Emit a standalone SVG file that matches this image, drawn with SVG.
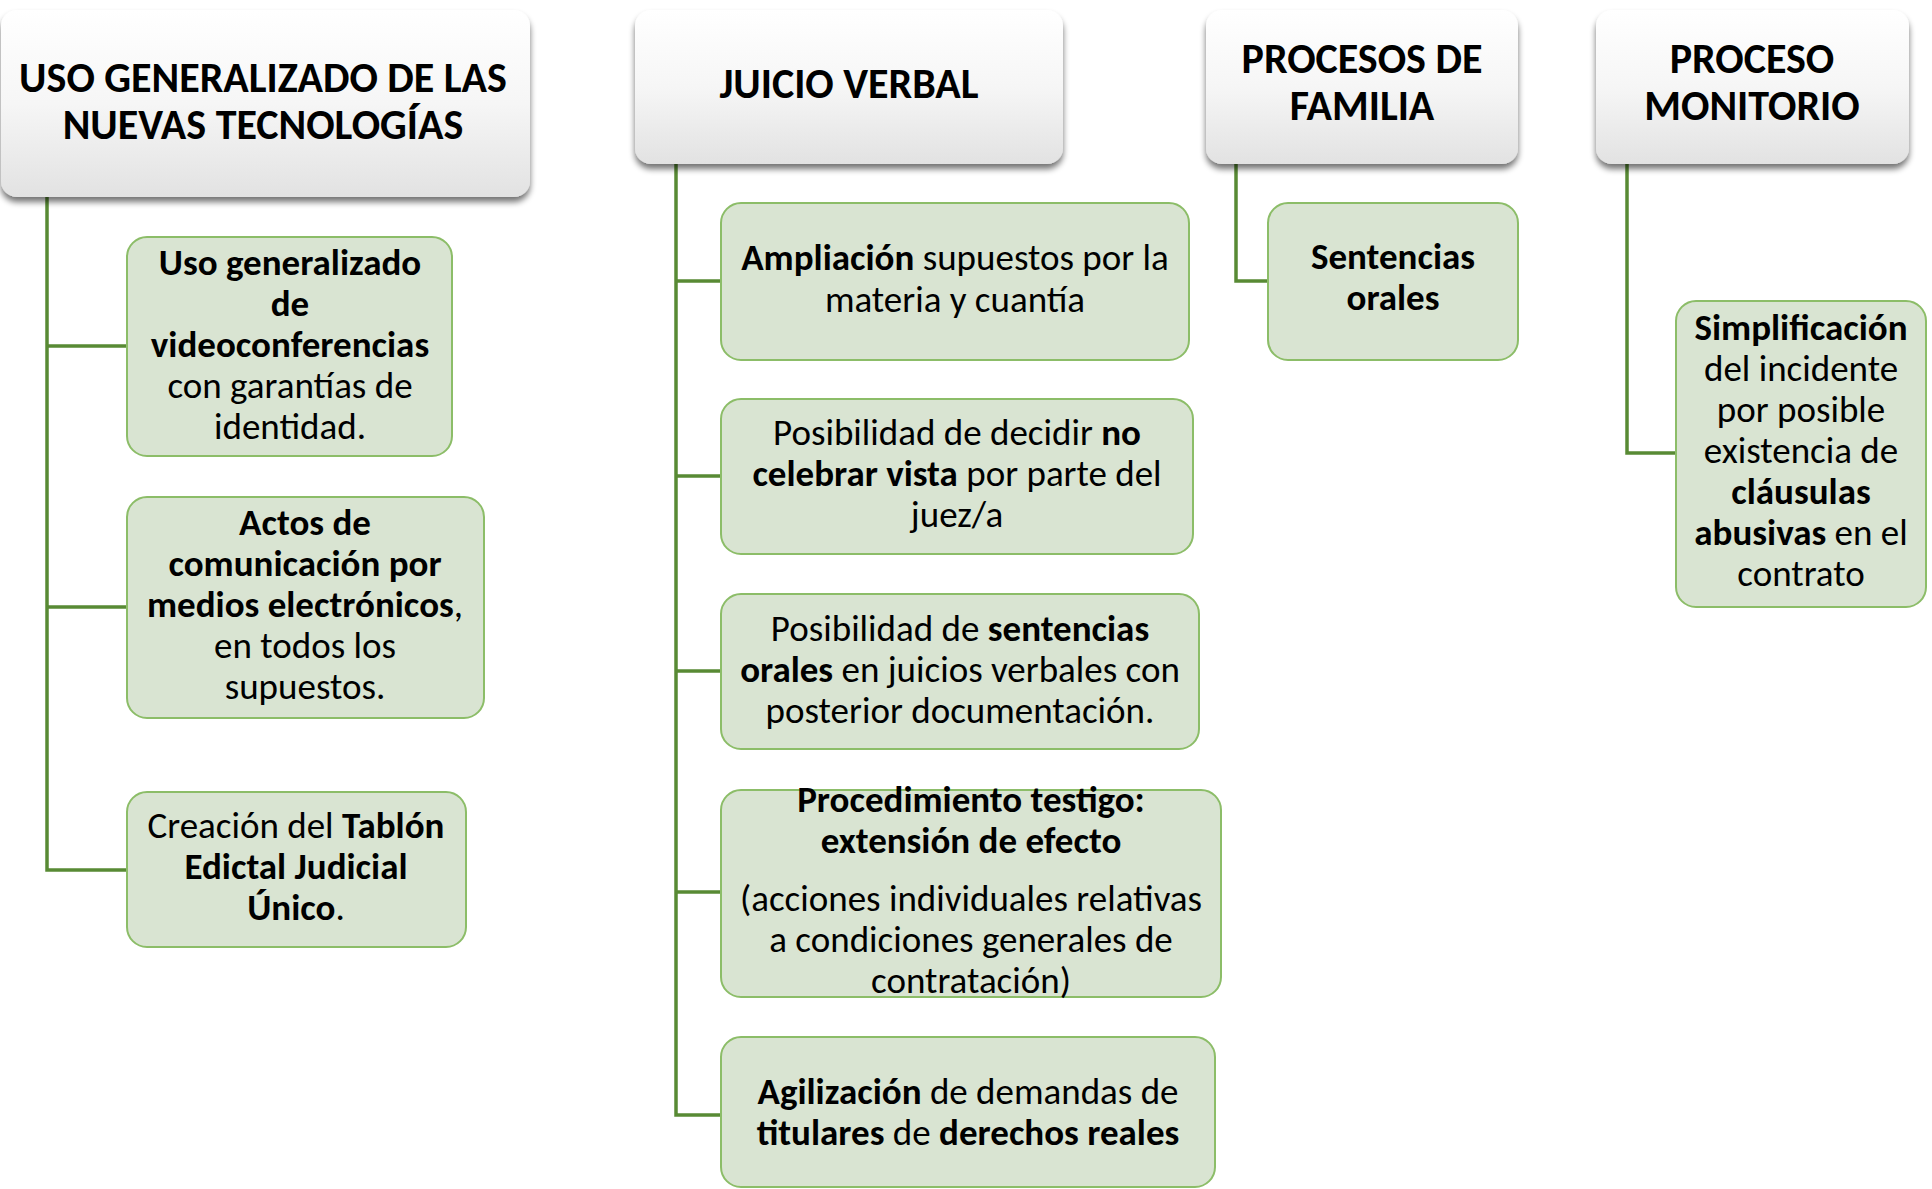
<svg xmlns="http://www.w3.org/2000/svg" width="1932" height="1189" viewBox="0 0 1932 1189">
<style>
text{font-family:Carlito,Lato,"Liberation Sans",sans-serif;fill:#000;text-anchor:middle}
.h{font-size:42px;font-weight:bold}
.t{font-size:37px}
.b{font-weight:bold}
.hb{fill:url(#hg);filter:url(#sh)}
.cb{fill:#D9E4D2;stroke:#8CBD68;stroke-width:2}
.cn{fill:none;stroke:#588A34;stroke-width:3.5}
</style>
<defs>
<linearGradient id="hg" x1="0" y1="0" x2="0" y2="1">
<stop offset="0" stop-color="#FFFFFF"/>
<stop offset="0.5" stop-color="#F6F6F6"/>
<stop offset="1" stop-color="#E2E2E2"/>
</linearGradient>
<filter id="sh" x="-10%" y="-10%" width="120%" height="130%">
<feGaussianBlur in="SourceAlpha" stdDeviation="3"/>
<feOffset dy="5" result="o"/>
<feComponentTransfer in="o" result="s"><feFuncA type="linear" slope="0.55"/></feComponentTransfer>
<feMerge><feMergeNode in="s"/><feMergeNode in="SourceGraphic"/></feMerge>
</filter>
</defs>
<rect width="1932" height="1189" fill="#FFFFFF"/>
<g id="connectors">
<path class="cn" d="M47 197V870H127M47 346H127M47 607H127"/>
<path class="cn" d="M676 164V1115H721M676 281H721M676 476H721M676 671H721M676 892H721"/>
<path class="cn" d="M1236 164V281H1268"/>
<path class="cn" d="M1627 164V453H1676"/>
</g>
<g id="h1"><rect class="hb" x="1" y="10" width="529" height="187" rx="16"/>
<text class="h" x="263" y="92">USO GENERALIZADO DE LAS</text>
<text class="h" x="263" y="139">NUEVAS TECNOLOGÍAS</text></g>
<g id="h2"><rect class="hb" x="635" y="10" width="428" height="154" rx="16"/>
<text class="h" x="849" y="98">JUICIO VERBAL</text></g>
<g id="h3"><rect class="hb" x="1206" y="10" width="312" height="154" rx="16"/>
<text class="h" x="1362" y="73">PROCESOS DE</text>
<text class="h" x="1362" y="120">FAMILIA</text></g>
<g id="h4"><rect class="hb" x="1596" y="10" width="313" height="154" rx="16"/>
<text class="h" x="1752" y="73">PROCESO</text>
<text class="h" x="1752" y="120">MONITORIO</text></g>
<g id="l1"><rect class="cb" x="127" y="237" width="325" height="219" rx="20"/>
<text class="t b" x="290" y="275">Uso generalizado</text>
<text class="t b" x="290" y="316">de</text>
<text class="t b" x="290" y="357">videoconferencias</text>
<text class="t" x="290" y="398">con garantías de</text>
<text class="t" x="290" y="439">identidad.</text></g>
<g id="l2"><rect class="cb" x="127" y="497" width="357" height="221" rx="20"/>
<text class="t b" x="305" y="535">Actos de</text>
<text class="t b" x="305" y="576">comunicación por</text>
<text class="t" x="305" y="617"><tspan class="b">medios electrónicos</tspan>,</text>
<text class="t" x="305" y="658">en todos los</text>
<text class="t" x="305" y="699">supuestos.</text></g>
<g id="l3"><rect class="cb" x="127" y="792" width="339" height="155" rx="20"/>
<text class="t" x="296" y="838">Creación del <tspan class="b">Tablón</tspan></text>
<text class="t b" x="296" y="879">Edictal Judicial</text>
<text class="t" x="296" y="920"><tspan class="b">Único</tspan>.</text></g>
<g id="m1"><rect class="cb" x="721" y="203" width="468" height="157" rx="20"/>
<text class="t" x="955" y="270"><tspan class="b">Ampliación</tspan> supuestos por la</text>
<text class="t" x="955" y="312">materia y cuantía</text></g>
<g id="m2"><rect class="cb" x="721" y="399" width="472" height="155" rx="20"/>
<text class="t" x="957" y="445">Posibilidad de decidir <tspan class="b">no</tspan></text>
<text class="t" x="957" y="486"><tspan class="b">celebrar vista</tspan> por parte del</text>
<text class="t" x="957" y="527">juez/a</text></g>
<g id="m3"><rect class="cb" x="721" y="594" width="478" height="155" rx="20"/>
<text class="t" x="960" y="641">Posibilidad de <tspan class="b">sentencias</tspan></text>
<text class="t" x="960" y="682"><tspan class="b">orales</tspan> en juicios verbales con</text>
<text class="t" x="960" y="723">posterior documentación.</text></g>
<g id="m4"><rect class="cb" x="721" y="790" width="500" height="207" rx="20"/>
<text class="t b" x="971" y="812">Procedimiento testigo:</text>
<text class="t b" x="971" y="853">extensión de efecto</text>
<text class="t" x="971" y="911">(acciones individuales relativas</text>
<text class="t" x="971" y="952">a condiciones generales de</text>
<text class="t" x="971" y="993">contratación)</text></g>
<g id="m5"><rect class="cb" x="721" y="1037" width="494" height="150" rx="20"/>
<text class="t" x="968" y="1104"><tspan class="b">Agilización</tspan> de demandas de</text>
<text class="t" x="968" y="1145"><tspan class="b">titulares</tspan> de <tspan class="b">derechos reales</tspan></text></g>
<g id="f1"><rect class="cb" x="1268" y="203" width="250" height="157" rx="20"/>
<text class="t b" x="1393" y="269">Sentencias</text>
<text class="t b" x="1393" y="310">orales</text></g>
<g id="p1"><rect class="cb" x="1676" y="301" width="250" height="306" rx="20"/>
<text class="t b" x="1801" y="340">Simplificación</text>
<text class="t" x="1801" y="381">del incidente</text>
<text class="t" x="1801" y="422">por posible</text>
<text class="t" x="1801" y="463">existencia de</text>
<text class="t b" x="1801" y="504">cláusulas</text>
<text class="t" x="1801" y="545"><tspan class="b">abusivas</tspan> en el</text>
<text class="t" x="1801" y="586">contrato</text></g>
</svg>
